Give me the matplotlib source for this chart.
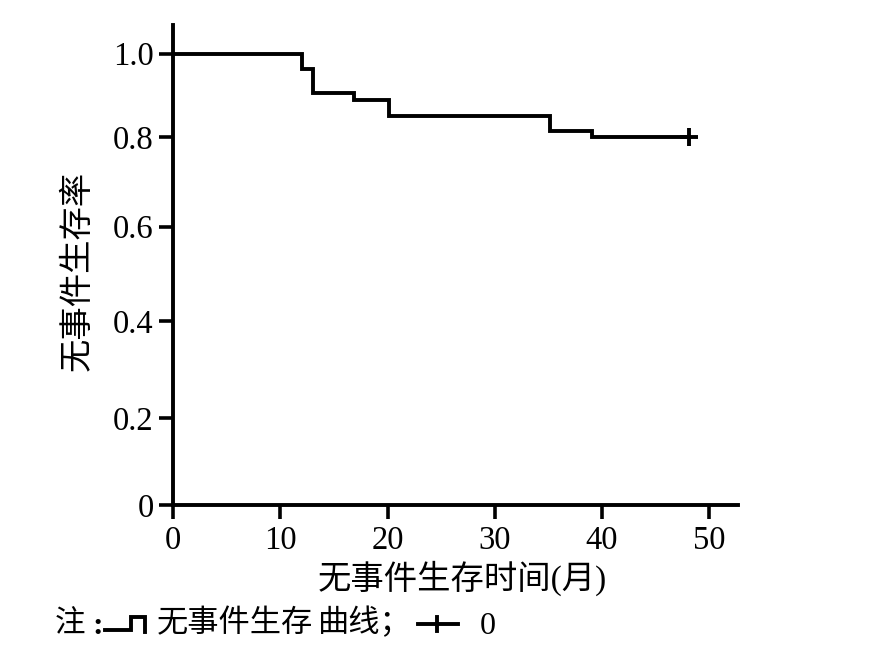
import numpy as np
import matplotlib
matplotlib.use('Agg')
import matplotlib.pyplot as plt
from matplotlib.lines import Line2D

# Kaplan-Meier style event-free survival curve
times = [0, 12.0, 13.0, 16.9, 20.1, 35.2, 39.1, 48.1]
surv = [1.0, 0.963, 0.907, 0.889, 0.852, 0.815, 0.80, 0.80]
censor_t = [48.1]
censor_s = [0.80]

x_ticks = [0, 10, 20, 30, 40, 50]
y_ticks = [0, 0.2, 0.4, 0.6, 0.8, 1.0]
y_ticklabels = ['0', '0.2', '0.4', '0.6', '0.8', '1.0']

W, H = 885, 659
serif = 'Liberation Serif'
cjk = 'Noto Sans CJK SC'

# the original y axis is not evenly spaced, mimic it with a piecewise scale
y_pos = np.array([0, 86.7, 184, 278.3, 367.7, 451.3])
y_val = np.array(y_ticks)


def fwd(v):
    v = np.asarray(v, float)
    out = np.interp(v, y_val, y_pos)
    hi = (y_pos[-1] - y_pos[-2]) / (y_val[-1] - y_val[-2])
    lo = (y_pos[1] - y_pos[0]) / (y_val[1] - y_val[0])
    out = np.where(v > y_val[-1], y_pos[-1] + (v - y_val[-1]) * hi, out)
    out = np.where(v < y_val[0], y_pos[0] + (v - y_val[0]) * lo, out)
    return out


def inv(p):
    p = np.asarray(p, float)
    out = np.interp(p, y_pos, y_val)
    hi = (y_val[-1] - y_val[-2]) / (y_pos[-1] - y_pos[-2])
    lo = (y_val[1] - y_val[0]) / (y_pos[1] - y_pos[0])
    out = np.where(p > y_pos[-1], y_val[-1] + (p - y_pos[-1]) * hi, out)
    out = np.where(p < y_pos[0], y_val[0] + (p - y_pos[0]) * lo, out)
    return out


def fx(x):
    return x / W


def fy(y):
    return 1 - y / H


fig = plt.figure(figsize=(W / 100, H / 100), dpi=100)
ax = fig.add_axes([fx(173.3), fy(505), fx(738) - fx(173.3), fy(25) - fy(505)])

ax.set_yscale('function', functions=(fwd, inv))
ax.step(times, surv, where='post', color='black', lw=2.8, solid_joinstyle='miter')
ax.plot(censor_t, censor_s, '+', color='black', ms=13.5, mew=2.8)

ax.set_xlim(0, 52.7)
ax.set_ylim(0, float(inv(480)))
ax.set_xticks(x_ticks)
ax.set_xticklabels([str(t) for t in x_ticks], fontfamily=serif, fontsize=23.5)
ax.set_yticks(y_ticks)
ax.set_yticklabels(y_ticklabels, fontfamily=serif, fontsize=23.5)
ax.minorticks_off()

for s in ['top', 'right']:
    ax.spines[s].set_visible(False)
for s in ['left', 'bottom']:
    ax.spines[s].set_linewidth(2.8)
ax.tick_params(direction='out', length=10, width=2.6, pad=4)
ax.tick_params(axis='x', pad=5)

fig.text(fx(77), fy(271), '无事件生存率', rotation=90, ha='center', va='center',
         fontsize=24, family=cjk)
fig.text(fx(462), fy(578), '无事件生存时间(月)', ha='center', va='center',
         fontsize=24, family=[serif, cjk])

# note line under the chart
fig.text(fx(55), fy(624), '注', ha='left', va='center', fontsize=22, family=cjk)
fig.text(fx(92), fy(626), ':', ha='left', va='center', fontsize=23,
         family=serif, fontweight='bold')
fig.add_artist(Line2D([fx(105), fx(131), fx(131), fx(145), fx(145)],
                      [fy(630), fy(630), fy(617), fy(617), fy(632)],
                      color='black', lw=2.8, solid_joinstyle='miter'))
fig.text(fx(157), fy(623), '无事件生存', ha='left', va='center',
         fontsize=22.5, family=cjk)
fig.text(fx(318), fy(623), '曲线；', ha='left', va='center',
         fontsize=22.5, family=cjk)
fig.add_artist(Line2D([fx(418), fx(458)], [fy(624), fy(624)], color='black', lw=2.8))
fig.add_artist(Line2D([fx(437), fx(437)], [fy(617), fy(631)], color='black', lw=2.8))
fig.text(fx(480), fy(626), '0', ha='left', va='center', fontsize=23, family=serif)

fig.savefig('out.png', dpi=100)
